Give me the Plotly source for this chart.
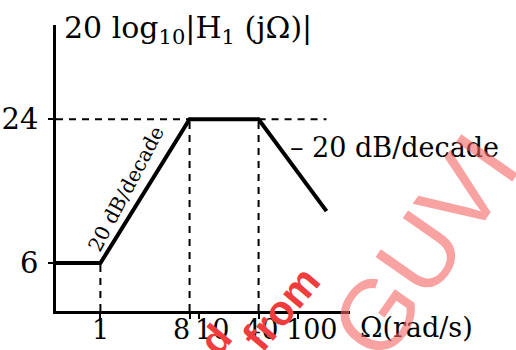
import math
import plotly.graph_objects as go

# Bode magnitude sketch: breakpoints of the asymptotic curve
omega = [0.355, 1, 8, 40, 195]          # rad/s
mag_db = [6, 6, 24, 24, 12.5]           # 20 log10 |H1(jΩ)|

x_ticks = [1, 8, 10, 40, 100]
x_tick_text = ["1", "8", "10", "40", "100"]
y_ticks = [6, 24]
y_tick_text = ["6", "24"]

FONT = "DejaVu Serif"
INK = "black"

fig = go.Figure()

# dashed guide lines from the corners of the curve
guides = [
    ([omega[1], omega[1]], [0, mag_db[1]]),
    ([omega[2], omega[2]], [0, mag_db[2]]),
    ([omega[3], omega[3]], [0, mag_db[3]]),
    ([omega[0], omega[2]], [mag_db[2], mag_db[2]]),
    ([omega[3], omega[4]], [mag_db[3], mag_db[3]]),
]
for gx, gy in guides:
    fig.add_trace(go.Scatter(x=gx, y=gy, mode="lines",
                             line=dict(color=INK, width=2, dash="7px,6px"),
                             hoverinfo="skip", showlegend=False))

fig.add_trace(go.Scatter(x=omega, y=mag_db, mode="lines",
                         line=dict(color=INK, width=4),
                         showlegend=False))

# tick labels on the frequency axis (nudged like in the sketch)
label_shift = {"1": 0, "8": -8, "10": 13, "40": 2, "100": 14}
for v, t in zip(x_ticks, x_tick_text):
    fig.add_annotation(x=math.log10(v), y=0, xref="x", yref="y", text=t,
                       showarrow=False, xshift=label_shift[t], yshift=-18,
                       xanchor="center", yanchor="middle",
                       font=dict(family=FONT, size=27, color=INK))

# slope labels
fig.add_annotation(x=math.log10(math.sqrt(omega[1] * omega[2])),
                   y=(mag_db[1] + mag_db[2]) / 2,
                   text="20 dB/decade", textangle=-62, showarrow=False,
                   xshift=-19, yshift=2, xanchor="center", yanchor="middle",
                   font=dict(family=FONT, size=20, color=INK))
fig.add_annotation(x=0.79, y=0.572, xref="paper", yref="paper",
                   text="– 20 dB/decade", showarrow=False, xanchor="left",
                   yanchor="middle", font=dict(family=FONT, size=27, color=INK))

# axis titles
fig.add_annotation(x=0.02, y=0.985, xref="paper", yref="paper",
                   text="20 log<sub>10</sub>|H<sub>1</sub> (jΩ)|",
                   showarrow=False, xanchor="left", yanchor="middle",
                   font=dict(family=FONT, size=30, color=INK))
fig.add_annotation(x=1.028, y=-0.058, xref="paper", yref="paper",
                   text="Ω(rad/s)", showarrow=False, xanchor="left",
                   yanchor="middle", font=dict(family=FONT, size=27, color=INK))

# watermark of the source image
fig.add_annotation(x=0.54, y=-0.10, xref="paper", yref="paper",
                   text="d", textangle=-50, showarrow=False,
                   xanchor="center", yanchor="middle",
                   font=dict(family="Liberation Sans", size=40, color="rgb(240,60,60)", weight="bold"))
fig.add_annotation(x=0.765, y=0.01, xref="paper", yref="paper",
                   text="from", textangle=-50, showarrow=False,
                   xanchor="center", yanchor="middle",
                   font=dict(family="Liberation Sans", size=42, color="rgb(240,60,60)", weight="bold"))
fig.add_annotation(x=1.25, y=0.225, xref="paper", yref="paper",
                   text="GUVI", textangle=-55, showarrow=False,
                   xanchor="center", yanchor="middle",
                   font=dict(family="Liberation Sans", size=100, color="rgba(245,100,100,0.6)"))

fig.update_xaxes(type="log", range=[math.log10(0.355), 2.528],
                 showline=True, linewidth=2.5, linecolor=INK,
                 showgrid=False, zeroline=False, automargin=False,
                 tickvals=x_ticks, showticklabels=False,
                 ticks="outside", ticklen=5, tickwidth=2, tickcolor=INK)
fig.update_yaxes(range=[0, 35.8],
                 showline=True, linewidth=2.5, linecolor=INK,
                 showgrid=False, zeroline=False, automargin=False,
                 tickvals=y_ticks, ticktext=y_tick_text,
                 ticks="outside", ticklen=5, tickwidth=2, tickcolor=INK,
                 ticklabelstandoff=4,
                 tickfont=dict(family=FONT, size=29, color=INK))

fig.update_layout(width=516, height=350,
                  margin=dict(l=56, r=166, t=25, b=39),
                  plot_bgcolor="white", paper_bgcolor="white")

# drop the page's default body margin so the figure fills the window
fig.write_html("out.html", config={"displayModeBar": False},
               post_script="document.body.style.margin='0';")
